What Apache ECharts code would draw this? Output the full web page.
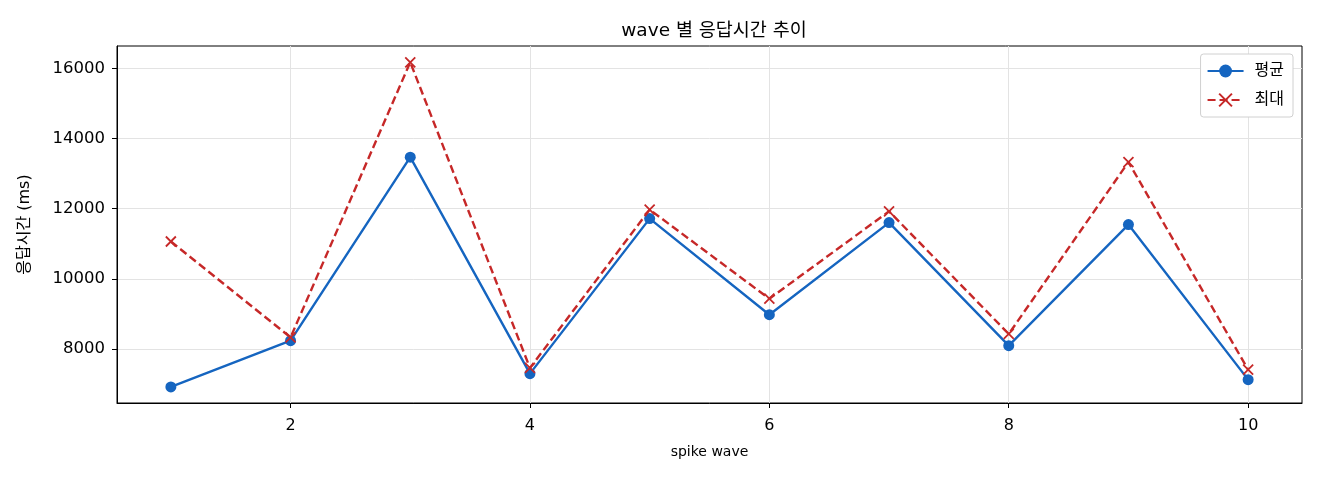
<!DOCTYPE html>
<html>
<head>
<meta charset="utf-8">
<script src="https://cdn.jsdelivr.net/npm/echarts@6/dist/echarts.min.js"></script>
<style>
html,body{margin:0;padding:0;background:#fff;}
#c{width:1320px;height:480px;}
</style>
</head>
<body>
<div id="c"></div>
<script>
const waves = [1, 2, 3, 4, 5, 6, 7, 8, 9, 10];
const avgMs = [6918, 8236, 13466, 7297, 11715, 8976, 11601, 8094, 11545, 7126];
const maxMs = [11063, 8330, 16171, 7459, 11972, 9432, 11923, 8427, 13327, 7410];
const xTicks = [2, 4, 6, 8, 10];
const yTicks = [8000, 10000, 12000, 14000, 16000];

const FONT = '"DejaVu Sans", "Noto Sans CJK KR", sans-serif';
const BLUE = '#1565c0';
const RED = '#c62828';
const CROSS = 'path://M0,0 L10,10 M10,0 L0,10';

const chart = echarts.init(document.getElementById('c'), null, {renderer: 'canvas'});
chart.setOption({
  animation: false,
  backgroundColor: '#fff',
  textStyle: {fontFamily: FONT},
  title: {
    text: 'wave 별 응답시간 추이',
    left: 709, top: 17, textAlign: 'center',
    textStyle: {fontFamily: FONT, fontSize: 18.5, fontWeight: 'normal', color: '#000'}
  },
  grid: {
    left: 117, right: 18, top: 46, bottom: 77,
    show: true, borderColor: '#000', borderWidth: 1, backgroundColor: 'transparent'
  },
  legend: {
    right: 27, top: 54,
    orient: 'vertical',
    padding: [9, 9, 9, 6],
    itemGap: 13,
    itemWidth: 36, itemHeight: 16,
    backgroundColor: '#fff',
    borderColor: '#d0d0d0', borderWidth: 1, borderRadius: 3,
    textStyle: {fontFamily: FONT, fontSize: 16, color: '#000', padding: [0, 0, 0, 6]},
    data: ['평균', '최대']
  },
  xAxis: {
    type: 'value',
    min: 0.55, max: 10.45,
    name: 'spike wave',
    nameLocation: 'middle', nameGap: 42,
    nameTextStyle: {fontFamily: FONT, fontSize: 14, color: '#000'},
    axisLine: {show: true, onZero: false, lineStyle: {color: '#000'}},
    axisTick: {show: true, length: 5, customValues: xTicks, lineStyle: {color: '#000'}},
    axisLabel: {customValues: xTicks, fontFamily: FONT, fontSize: 16, color: '#000', margin: 15},
    splitLine: {show: true, lineStyle: {color: '#e3e3e3', width: 1}}
  },
  yAxis: {
    type: 'value',
    min: 6460, max: 16635,
    name: '응답시간 (ms)',
    nameLocation: 'middle', nameGap: 84,
    nameTextStyle: {fontFamily: FONT, fontSize: 16, color: '#000'},
    axisLine: {show: true, onZero: false, lineStyle: {color: '#000'}},
    axisTick: {show: true, length: 5, customValues: yTicks, lineStyle: {color: '#000'}},
    axisLabel: {customValues: yTicks, fontFamily: FONT, fontSize: 16.5, color: '#000', margin: 12,
      formatter: v => String(v)},
    splitLine: {show: true, lineStyle: {color: '#e3e3e3', width: 1}}
  },
  series: [
    {
      name: '평균', type: 'line',
      data: waves.map((w, i) => [w, avgMs[i]]),
      symbol: 'circle', symbolSize: 11,
      itemStyle: {color: BLUE},
      lineStyle: {color: BLUE, width: 2.4},
      z: 2
    },
    {
      name: '최대', type: 'line',
      data: waves.map((w, i) => [w, maxMs[i]]),
      symbol: CROSS, symbolSize: 10,
      itemStyle: {color: 'rgba(0,0,0,0)', borderColor: RED, borderWidth: 1.8},
      lineStyle: {color: RED, width: 2.4, type: [8, 4]},
      z: 3
    }
  ]
});
</script>
</body>
</html>
